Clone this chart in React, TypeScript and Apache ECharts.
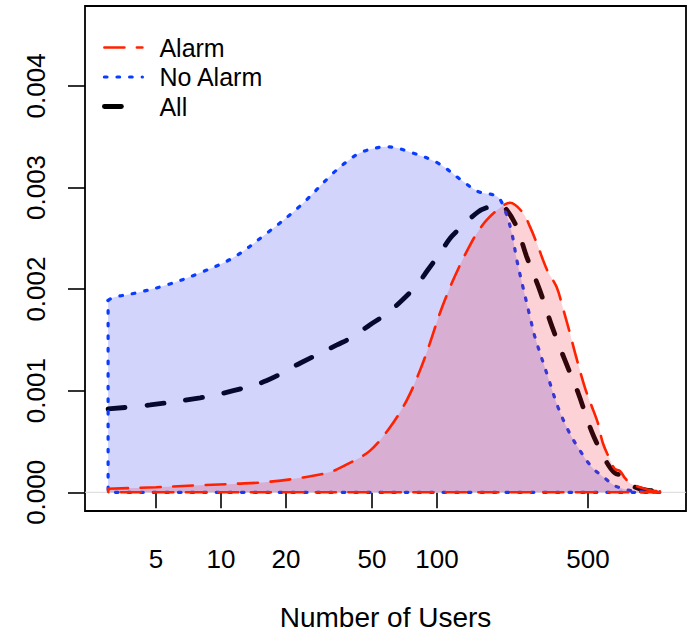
import React, { useEffect, useRef } from 'react';
import * as echarts from 'echarts';

const xTickValues = [5, 10, 20, 50, 100, 500];
const yTickValues = [0, 0.001, 0.002, 0.003, 0.004];

const alarmUsers = [3, 5, 8, 12, 16, 23, 32, 39.5, 49, 60.6, 72.6, 83.4, 92.8, 103, 115, 128, 142, 153, 170, 196, 218, 250, 270, 290, 323, 358, 382, 412, 436, 484, 520, 556, 587, 633, 665, 703, 742, 783, 871, 968, 1076];
const alarmDensity = [0.000035, 0.00005, 0.00007, 0.000085, 0.0001, 0.00014, 0.0002, 0.00029, 0.00041, 0.00064, 0.00091, 0.0012, 0.00147, 0.00176, 0.00202, 0.00224, 0.00243, 0.00255, 0.00268, 0.0028, 0.00285, 0.00275, 0.00261, 0.00245, 0.00219, 0.00202, 0.00182, 0.00157, 0.00137, 0.00103, 0.00085, 0.00068, 0.00048, 0.00032, 0.00023, 0.00021, 0.00014, 0.00009, 0.00005, 0.00002, 0.00001];

const noAlarmUsers = [3, 3.2, 4, 5.6, 8, 11.4, 16.3, 23, 33, 38, 45, 59, 77, 101, 130, 155, 190, 206, 222, 234, 250, 270, 284, 327, 363, 405, 450, 520, 598, 660, 714, 826, 1076];
const noAlarmDensity = [0.00189, 0.00192, 0.00196, 0.00204, 0.00216, 0.00231, 0.00255, 0.00281, 0.00314, 0.00325, 0.00335, 0.0034, 0.00334, 0.00324, 0.00307, 0.00296, 0.00291, 0.00278, 0.00255, 0.00229, 0.00202, 0.00172, 0.00153, 0.00113, 0.00084, 0.00061, 0.00044, 0.00025, 0.00014, 0.00007, 0.00004, 0.00001, 0];

const allUsers = [3, 4.7, 8, 11.4, 16.3, 23.2, 34.4, 40.8, 49, 58.7, 68.9, 80.7, 90.8, 103, 115, 125, 155, 175, 195, 210, 234, 260, 299, 341, 391, 450, 520, 598, 666, 742, 826, 1019, 1076];
const allDensity = [0.00082, 0.00086, 0.00093, 0.001, 0.0011, 0.00127, 0.00145, 0.00153, 0.00165, 0.00176, 0.00189, 0.00204, 0.00219, 0.00235, 0.0025, 0.00258, 0.00276, 0.00281, 0.00283, 0.00278, 0.00261, 0.00232, 0.00199, 0.00163, 0.0013, 0.00098, 0.0006, 0.00033, 0.00019, 0.00016, 0.00005, 0.00001, 0];

const X_MIN_USERS = 2.345;
const X_MAX_USERS = 1422;
const Y_MIN = -0.000184;
const Y_MAX = 0.004786;

const FONT = '"Liberation Sans", Arial, Helvetica, sans-serif';
const RED = '#ff2200';
const BLUE = '#0a3cff';

const lg = (n: number) => Math.log10(n);
const curve = (xs: number[], ys: number[]) => xs.map((x, i) => [lg(x), ys[i]]);
const edges = (xs: number[], ys: number[]) => {
  const l = xs.length - 1;
  return [
    [lg(xs[l]), ys[l]],
    [lg(xs[l]), 0],
    [lg(xs[0]), 0],
    [lg(xs[0]), ys[0]],
  ];
};

export default function App() {
  const ref = useRef<HTMLDivElement>(null);
  useEffect(() => {
    if (!ref.current) return;
    const chart = echarts.init(ref.current, undefined, { renderer: 'svg' });
    const redLine = { color: RED, width: 2.6, type: [20, 12.5], cap: 'round' };
    const blueLine = { color: BLUE, width: 3.2, type: [2.6, 10], cap: 'round' };
    const blackLine = { color: '#000', width: 4.8, type: [17, 22], cap: 'round' };
    chart.setOption({
      animation: false,
      textStyle: { fontFamily: FONT },
      grid: {
        left: 85,
        right: 4,
        top: 6,
        bottom: 120,
        outerBoundsMode: 'none',
        containLabel: false,
        show: true,
        borderColor: '#000',
        borderWidth: 1.8,
        backgroundColor: 'transparent',
      },
      legend: {
        data: ['Alarm', 'No Alarm', 'All'],
        orient: 'vertical',
        left: 102,
        top: 35,
        padding: 0,
        itemWidth: 38,
        itemHeight: 14,
        itemGap: 4.5,
        selectedMode: false,
        itemStyle: { opacity: 0, borderWidth: 0 },
        lineStyle: { width: 'inherit' },
        textStyle: { fontSize: 25, color: '#000', fontFamily: FONT, lineHeight: 25, padding: [0, 0, 0, 12] },
      },
      xAxis: {
        type: 'value',
        min: lg(X_MIN_USERS),
        max: lg(X_MAX_USERS),
        axisLine: { show: false },
        splitLine: { show: false },
        axisTick: {
          show: true,
          length: 16,
          lineStyle: { color: '#000', width: 1.6 },
          customValues: xTickValues.map(lg),
        },
        axisLabel: {
          fontSize: 26,
          color: '#000',
          fontFamily: FONT,
          margin: 35,
          customValues: xTickValues.map(lg),
          formatter: (v: number) => String(Math.round(Math.pow(10, v))),
        },
        name: 'Number of Users',
        nameLocation: 'middle',
        nameGap: 93,
        nameTextStyle: { fontSize: 28, lineHeight: 26, color: '#000', fontFamily: FONT },
      },
      yAxis: {
        type: 'value',
        min: Y_MIN,
        max: Y_MAX,
        axisLine: { show: false },
        splitLine: { show: false },
        axisTick: {
          show: true,
          length: 17,
          lineStyle: { color: '#000', width: 1.6 },
          customValues: yTickValues,
        },
        axisLabel: {
          fontSize: 26,
          color: '#000',
          fontFamily: FONT,
          rotate: 90,
          margin: 36,
          customValues: yTickValues,
          formatter: (v: number) => v.toFixed(3),
        },
      },
      series: [
        {
          name: 'zero line',
          type: 'line',
          z: 0,
          data: [
            [lg(X_MIN_USERS), 0],
            [lg(X_MAX_USERS), 0],
          ],
          showSymbol: false,
          symbol: 'none',
          silent: true,
          lineStyle: { color: '#d9d9d9', width: 1, type: 'solid' },
        },
        {
          name: 'All',
          type: 'line',
          z: 1,
          data: curve(allUsers, allDensity),
          showSymbol: false,
          symbol: 'none',
          smooth: 0.35,
          lineStyle: blackLine,
          itemStyle: { color: '#000' },
        },
        {
          name: 'No Alarm',
          type: 'line',
          z: 2,
          data: curve(noAlarmUsers, noAlarmDensity),
          showSymbol: false,
          symbol: 'none',
          smooth: 0.35,
          lineStyle: blueLine,
          itemStyle: { color: BLUE },
          areaStyle: { color: 'rgba(30,40,235,0.2)', opacity: 1 },
        },
        {
          name: 'No Alarm edges',
          type: 'line',
          z: 2,
          data: edges(noAlarmUsers, noAlarmDensity),
          showSymbol: false,
          symbol: 'none',
          lineStyle: blueLine,
          itemStyle: { color: BLUE },
        },
        {
          name: 'Alarm',
          type: 'line',
          z: 3,
          data: curve(alarmUsers, alarmDensity),
          showSymbol: false,
          symbol: 'none',
          smooth: 0.35,
          lineStyle: redLine,
          itemStyle: { color: RED },
          areaStyle: { color: 'rgba(240,30,50,0.2)', opacity: 1 },
        },
        {
          name: 'Alarm edges',
          type: 'line',
          z: 3,
          data: edges(alarmUsers, alarmDensity),
          showSymbol: false,
          symbol: 'none',
          lineStyle: redLine,
          itemStyle: { color: RED },
        },
      ],
    });
    return () => chart.dispose();
  }, []);
  return (
    <div
      ref={ref}
      style={{ position: 'absolute', left: 0, top: 0, width: 690, height: 631, background: '#fff' }}
    />
  );
}
